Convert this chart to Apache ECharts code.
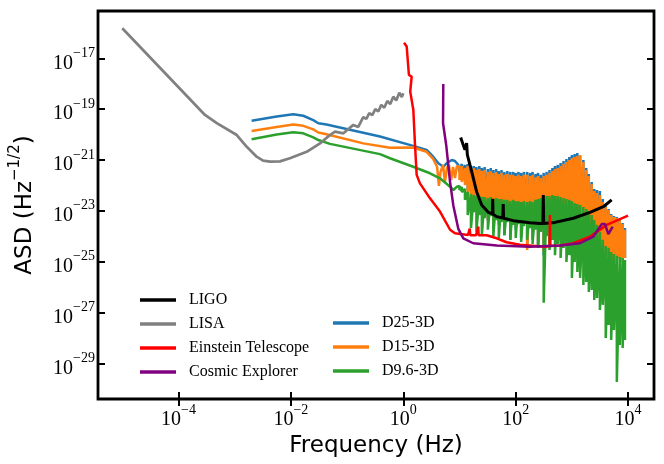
<!DOCTYPE html>
<html><head><meta charset="utf-8">
<script src="https://cdn.jsdelivr.net/npm/echarts@6/dist/echarts.min.js"></script>
<style>html,body{margin:0;padding:0;background:#fff}#c{width:664px;height:464px}</style>
</head><body><div id="c"></div>
<script>
// ---- axis ticks ----
const xTicks = [1e-4, 1e-2, 1, 1e2, 1e4];
const yTicks = [1e-29, 1e-27, 1e-25, 1e-23, 1e-21, 1e-19, 1e-17];

// ---- LIGO ----
const ligoF = [10.5, 12.5, 13.4, 13.8, 16.5, 20.2, 24.8, 32.5, 38.5, 39, 39.5, 46, 59, 60, 61, 90.6, 180, 270, 305, 310, 315, 500, 1060, 2100, 3620, 5100];
const ligoA = [7.6e-21, 2.5e-21, 4.6e-21, 1.58e-21, 3.5e-22, 5.6e-23, 1.7e-23, 8.7e-24, 7.6e-24, 3.0e-23, 7.4e-24, 5.9e-24, 5.2e-24, 1.86e-23, 5.1e-24, 4.1e-24, 3.4e-24, 3.2e-24, 3.2e-24, 4.2e-23, 3.2e-24, 3.5e-24, 5.1e-24, 8.7e-24, 1.45e-23, 2.7e-23];

// ---- LISA ----
const lisaF = [1.0e-5, 2.96e-4, 4.8e-4, 1.09e-3, 1.64e-3, 2.46e-3, 3.2e-3, 4.25e-3, 6.4e-3, 9.6e-3, 1.91e-2, 3.3e-2, 4.96e-2, 6.1e-2, 8.6e-2, 0.129, 0.158, 0.194, 0.22, 0.248, 0.281, 0.318, 0.359, 0.406, 0.459, 0.519, 0.587, 0.664, 0.75, 0.849, 0.94, 1.0];
const lisaA = [1.52e-16, 5.9e-20, 2.8e-20, 9.6e-21, 3.3e-21, 1.35e-21, 9.5e-22, 8.6e-22, 8.8e-22, 1.17e-21, 2.1e-21, 4.5e-21, 9.6e-21, 1.3e-20, 1.12e-20, 2.4e-20, 2.0e-20, 4.9e-20, 4.1e-20, 7.0e-20, 5.8e-20, 1.0e-19, 8.1e-20, 1.47e-19, 1.13e-19, 2.1e-19, 1.58e-19, 3.1e-19, 2.2e-19, 4.4e-19, 3.0e-19, 4.2e-19];

// ---- Einstein Telescope ----
const etF = [1.03, 1.15, 1.26, 1.41, 1.33, 1.51, 1.61, 1.73, 1.98, 2.99, 4.5, 6.8, 8.3, 14.2, 14.8, 15.2, 15.6, 19.7, 21.3, 21.6, 21.9, 30.5, 45.9, 69, 119, 331, 400, 407, 414, 614, 1060, 2100, 4160, 10000];
const etA = [4.1e-17, 2.9e-17, 2.2e-18, 1.9e-18, 4.9e-19, 9.3e-20, 4.6e-21, 2.6e-22, 1.2e-22, 3.1e-23, 9.3e-24, 1.8e-24, 1.3e-24, 1.12e-24, 1.1e-24, 2.0e-24, 1.1e-24, 1.1e-24, 1.1e-24, 2.4e-24, 1.1e-24, 1.1e-24, 8.3e-25, 5.8e-25, 4.6e-25, 3.9e-25, 4.0e-25, 6.9e-24, 4.1e-25, 4.3e-25, 5.3e-25, 9.6e-25, 2.8e-24, 6.5e-24];

// ---- Cosmic Explorer ----
const ceF = [5.15, 5.1, 5.8, 6.8, 7.8, 9.5, 11.7, 17.6, 46, 180, 614, 1390, 2400, 3390, 3890, 4450, 5320];
const ceA = [9.7e-19, 2.8e-20, 3.9e-21, 1.35e-22, 1.55e-23, 2.0e-24, 8.3e-25, 5.3e-25, 4.3e-25, 3.9e-25, 4.3e-25, 5.3e-25, 9.6e-25, 3.0e-24, 3.0e-24, 1.22e-24, 2.4e-24];

// ---- D-curves: smooth low-frequency part ----
const d25F = [2.0e-3, 5.6e-3, 1.1e-2, 1.66e-2, 2.5e-2, 3.08e-2, 4.3e-2, 0.385, 1.5, 2.6, 3.4, 4.2, 5.15, 5.9, 7.3, 8.3, 9.5];
const d25A = [3.5e-20, 5.1e-20, 6.3e-20, 5.5e-20, 3.7e-20, 2.8e-20, 2.5e-20, 8.4e-21, 3.6e-21, 2.5e-21, 1.35e-21, 7.4e-22, 5.4e-22, 7.4e-22, 1.0e-21, 9.1e-22, 6.4e-22];
const d15F = [2.0e-3, 5.6e-3, 1.1e-2, 1.66e-2, 2.5e-2, 3.08e-2, 4.3e-2, 0.194, 0.58, 1.5, 2.6, 3.4, 4.0, 4.3, 4.6, 5.1, 5.5, 6.0, 6.5, 7.1, 7.7, 8.3, 9.0];
const d15A = [1.38e-20, 2.0e-20, 2.5e-20, 2.2e-20, 1.6e-20, 1.2e-20, 1.03e-20, 4.5e-21, 3.0e-21, 3.1e-21, 2.1e-21, 1.1e-21, 5.3e-22, 9.5e-23, 3.4e-22, 6.4e-22, 1.36e-22, 4.85e-22, 6.4e-22, 1.63e-22, 5.3e-22, 1.96e-22, 5.8e-22];
const d96F = [2.0e-3, 5.6e-3, 1.1e-2, 1.66e-2, 2.5e-2, 3.08e-2, 4.96e-2, 0.385, 0.58, 1.5, 2.99, 4.5, 6.8, 7.8, 9.0];
const d96A = [6.5e-21, 1.0e-20, 1.23e-20, 1.12e-20, 7.7e-21, 6.1e-21, 4.3e-21, 1.7e-21, 1.17e-21, 5.4e-22, 3.0e-22, 1.9e-22, 8.9e-23, 6.6e-23, 8.9e-23];

// ---- D-curves: noisy part, max/min per frequency bin ----
const noiseF = [10, 11, 12.5, 14, 16, 18, 20, 22.5, 25, 28, 32, 36, 40, 45, 50, 56, 63, 71, 80, 90, 100, 112, 125, 140, 160, 180, 200, 225, 250, 280, 315, 355, 400, 450, 500, 560, 630, 710, 800, 900, 1000, 1120, 1250, 1400, 1600, 1800, 2000, 2250, 2500, 2800, 3150, 3550, 4000, 4500, 5000, 5600, 6300, 7100, 8000, 8800];
const d25Hi = [7.6e-22, 7.0e-22, 6.4e-22, 7.0e-22, 5.8e-22, 5.8e-22, 5.3e-22, 5.8e-22, 4.85e-22, 5.3e-22,
  4.4e-22, 4.85e-22, 4.0e-22, 4.4e-22, 3.7e-22, 4.0e-22, 3.4e-22, 3.7e-22, 3.4e-22, 3.4e-22,
  3.1e-22, 3.4e-22, 3.1e-22, 3.4e-22, 3.4e-22, 3.1e-22, 3.4e-22, 2.8e-22, 3.1e-22, 2.6e-22,
  3.1e-22, 3.4e-22, 4.0e-22, 4.85e-22, 5.8e-22, 6.4e-22, 7.6e-22, 9.1e-22, 1.1e-21, 1.31e-21,
  1.57e-21, 1.72e-21, 1.88e-21, 1.44e-21, 1.0e-21, 4.85e-22, 2.8e-22, 1.36e-22, 7.2e-23, 6.6e-23,
  6.0e-23, 2.9e-23, 1.7e-23, 1.18e-23, 7.5e-24, 6.2e-24, 5.7e-24, 4.8e-24, 3.3e-24, 2.1e-24];
const d25Lo = [3.4e-22, 2.6e-22, 1.63e-22, 6.6e-23, 2.7e-23, 4.2e-23, 1.08e-23, 2.7e-23, 6.8e-24, 1.7e-23,
  4.3e-24, 1.08e-23, 2.1e-24, 9.0e-24, 2.8e-24, 6.8e-24, 1.1e-24, 5.2e-24, 7.2e-25, 4.3e-24,
  1.8e-24, 5.2e-24, 8.6e-25, 3.6e-24, 4.5e-25, 2.8e-24, 7.2e-25, 2.1e-24, 3.5e-25, 1.5e-24,
  1.8e-25, 1.8e-24, 6.0e-25, 2.1e-24, 8.6e-25, 2.5e-24, 7.2e-25, 1.8e-24, 6.0e-25, 1.5e-24,
  5.0e-25, 1.2e-24, 4.1e-25, 1.0e-24, 3.5e-25, 7.2e-25, 2.9e-25, 6.0e-25, 2.4e-25, 4.1e-25,
  1.8e-25, 2.9e-25, 1.4e-25, 2.0e-25, 1.17e-25, 1.8e-25, 1.17e-25, 1.4e-25, 1.17e-25, 1.4e-25];
const d15Hi = [5.3e-22, 5.8e-22, 4.85e-22, 5.8e-22, 4.4e-22, 4.85e-22, 4.0e-22, 4.4e-22, 3.7e-22, 4.0e-22,
  3.4e-22, 3.7e-22, 3.1e-22, 3.4e-22, 2.8e-22, 3.1e-22, 2.6e-22, 2.8e-22, 2.6e-22, 2.6e-22,
  2.35e-22, 2.6e-22, 2.35e-22, 2.6e-22, 2.6e-22, 2.35e-22, 2.6e-22, 2.1e-22, 2.35e-22, 1.96e-22,
  2.35e-22, 2.6e-22, 3.1e-22, 3.7e-22, 4.4e-22, 4.85e-22, 5.8e-22, 7.0e-22, 8.3e-22, 1.0e-21,
  1.2e-21, 1.31e-21, 1.44e-21, 1.57e-21, 8.3e-22, 4.0e-22, 2.35e-22, 1.14e-22, 6.0e-23, 5.0e-23,
  4.2e-23, 2.2e-23, 1.4e-23, 1.08e-23, 6.8e-24, 5.7e-24, 5.2e-24, 4.3e-24, 3.0e-24, 1.8e-24];
const d15Lo = [1.63e-22, 1.36e-22, 1.04e-22, 4.2e-23, 1.08e-23, 2.7e-23, 9.0e-24, 1.7e-23, 7.5e-24, 1.3e-23,
  4.3e-24, 9.0e-24, 2.8e-24, 6.8e-24, 3.6e-24, 7.5e-24, 2.1e-24, 6.2e-24, 1.5e-24, 5.2e-24,
  2.5e-24, 6.8e-24, 1.1e-24, 4.3e-24, 2.9e-25, 3.6e-24, 8.6e-25, 2.8e-24, 4.5e-25, 1.8e-24,
  2.4e-25, 2.1e-24, 7.2e-25, 2.5e-24, 1.1e-24, 2.8e-24, 8.6e-25, 2.1e-24, 7.2e-25, 1.8e-24,
  6.0e-25, 1.5e-24, 4.5e-25, 1.1e-24, 3.5e-25, 8.6e-25, 2.9e-25, 7.2e-25, 2.4e-25, 4.5e-25,
  1.8e-25, 2.9e-25, 1.17e-25, 1.8e-25, 9.7e-26, 1.8e-25, 9.7e-26, 1.4e-25, 9.7e-26, 1.4e-25];
const d96Hi = [9.5e-23, 8.6e-23, 7.2e-23, 5.5e-23, 4.6e-23, 4.2e-23, 3.8e-23, 3.8e-23, 3.5e-23, 3.5e-23,
  3.2e-23, 3.5e-23, 2.9e-23, 3.2e-23, 2.9e-23, 2.9e-23, 2.7e-23, 2.7e-23, 2.4e-23, 2.7e-23,
  2.4e-23, 2.4e-23, 2.2e-23, 2.4e-23, 2.2e-23, 2.4e-23, 2.2e-23, 2.7e-23, 2.9e-23, 3.2e-23,
  3.5e-23, 3.8e-23, 3.8e-23, 4.2e-23, 3.8e-23, 3.8e-23, 3.5e-23, 3.2e-23, 2.9e-23, 2.7e-23,
  2.4e-23, 2.0e-23, 1.85e-23, 1.7e-23, 1.4e-23, 1.18e-23, 9.8e-24, 6.8e-24, 4.3e-24, 2.8e-24,
  1.5e-24, 7.2e-25, 4.1e-25, 3.5e-25, 2.4e-25, 2.0e-25, 1.7e-25, 1.53e-25, 1.4e-25, 1.17e-25];
const d96Lo = [6.6e-23, 5.5e-23, 2.7e-23, 6.8e-24, 2.1e-24, 9.0e-24, 1.5e-24, 6.8e-24, 1.1e-24, 5.2e-24,
  1.8e-24, 6.2e-24, 1.0e-24, 4.3e-24, 8.6e-25, 3.6e-24, 1.1e-24, 3.6e-24, 7.2e-25, 2.8e-24,
  8.6e-25, 3.0e-24, 6.0e-25, 2.5e-24, 7.2e-25, 2.1e-24, 5.0e-25, 1.8e-24, 4.1e-25, 1.5e-24,
  2.4e-27, 1.0e-24, 2.9e-25, 7.2e-25, 1.8e-25, 5.0e-25, 1.4e-25, 3.5e-25, 9.7e-26, 1.8e-25,
  2.3e-26, 9.7e-26, 3.9e-26, 2.3e-26, 1.2e-26, 1.6e-26, 6.4e-27, 7.7e-27, 3.1e-27, 3.7e-27,
  1.26e-27, 2.0e-27, 1.0e-28, 3.2e-28, 8.3e-29, 2.05e-28, 1.85e-30, 5.3e-29, 4.0e-29, 8.3e-29];

// ---- build series data ----
const pairs = (fs, as) => fs.map((f, i) => [f, as[i]]);
const withNoise = (fs, as, hi, lo) => {
  const d = pairs(fs, as);
  noiseF.forEach((f, i) => { d.push([f, hi[i]]); d.push([f, lo[i]]); });
  return d;
};

const serif = 'Liberation Serif, Times New Roman, serif';
const sans = 'DejaVu Sans, sans-serif';
const tickFmt = v => {
  const e = Math.round(Math.log10(v));
  return '{b|10}{s|' + (e < 0 ? '\u2212' : '') + Math.abs(e) + '}';
};
const richTick = {
  b: { fontFamily: serif, fontSize: 20, color: '#000', verticalAlign: 'middle', lineHeight: 34 },
  s: { fontFamily: serif, fontSize: 14, color: '#000', verticalAlign: 'top', lineHeight: 12 }
};
const X_MIN = Math.pow(10, -5.432), X_MAX = Math.pow(10, 4.461);
const Y_MIN = Math.pow(10, -30.403), Y_MAX = Math.pow(10, -15.139);

const tickStyle = { show: true, inside: true, length: 7, lineStyle: { color: '#000', width: 2 } };

const chart = echarts.init(document.getElementById('c'), null, { renderer: 'canvas', width: 664, height: 464 });
const mk = (name, data, color, width) => ({
  name, type: 'line', data, showSymbol: false, symbol: 'none', animation: false,
  lineStyle: { color, width }, itemStyle: { color }, emphasis: { disabled: true }, clip: true
});
chart.setOption({
  animation: false,
  backgroundColor: '#fff',
  grid: { left: 98, right: 10, top: 11, bottom: 65, show: true, borderColor: '#000', borderWidth: 2.8, backgroundColor: 'transparent' },
  xAxis: [
    { type: 'log', logBase: 10, min: X_MIN, max: X_MAX, position: 'bottom',
      axisLine: { show: false }, splitLine: { show: false },
      axisTick: Object.assign({ customValues: xTicks }, tickStyle),
      axisLabel: { customValues: xTicks, formatter: tickFmt, rich: richTick, margin: 4 },
      name: 'Frequency (Hz)', nameLocation: 'middle', nameGap: 35,
      nameTextStyle: { fontFamily: sans, fontSize: 23, color: '#000' } },
    { type: 'log', logBase: 10, min: X_MIN, max: X_MAX, position: 'top',
      axisLine: { show: false }, splitLine: { show: false },
      axisTick: Object.assign({ customValues: xTicks }, tickStyle),
      axisLabel: { show: false, customValues: xTicks } }
  ],
  yAxis: [
    { type: 'log', logBase: 10, min: Y_MIN, max: Y_MAX, position: 'left',
      axisLine: { show: false }, splitLine: { show: false },
      axisTick: Object.assign({ customValues: yTicks }, tickStyle),
      axisLabel: { customValues: yTicks, formatter: tickFmt, rich: richTick, margin: 3, padding: [10, 0, 0, 0] },
      name: '{a|ASD (Hz}{s|\u22121/2}{a|)}', nameLocation: 'middle', nameGap: 56, nameRotate: 90,
      nameTextStyle: { fontFamily: sans, fontSize: 23, color: '#000', rich: {
        a: { fontFamily: sans, fontSize: 23, color: '#000', verticalAlign: 'middle', lineHeight: 34 },
        s: { fontFamily: sans, fontSize: 15, color: '#000', verticalAlign: 'top', lineHeight: 14 } } } },
    { type: 'log', logBase: 10, min: Y_MIN, max: Y_MAX, position: 'right',
      axisLine: { show: false }, splitLine: { show: false },
      axisTick: Object.assign({ customValues: yTicks }, tickStyle),
      axisLabel: { show: false, customValues: yTicks } }
  ],
  legend: [
    { orient: 'vertical', left: 140, top: 292, padding: 0, itemGap: 8, itemWidth: 36, itemHeight: 3.5, icon: 'rect',
      selectedMode: false, data: ['LIGO', 'LISA', 'Einstein Telescope', 'Cosmic Explorer'],
      textStyle: { fontFamily: serif, fontSize: 16, color: '#000', padding: [0, 0, 0, 8] } },
    { orient: 'vertical', left: 333, top: 315, padding: 0, itemGap: 8, itemWidth: 36, itemHeight: 3.5, icon: 'rect',
      selectedMode: false, data: ['D25-3D', 'D15-3D', 'D9.6-3D'],
      textStyle: { fontFamily: serif, fontSize: 16, color: '#000', padding: [0, 0, 0, 8] } }
  ],
  series: [
    mk('D25-3D', withNoise(d25F, d25A, d25Hi, d25Lo), '#1f77b4', 2.5),
    mk('D15-3D', withNoise(d15F, d15A, d15Hi, d15Lo), '#ff7f0e', 2.5),
    mk('D9.6-3D', withNoise(d96F, d96A, d96Hi, d96Lo), '#2ca02c', 2.5),
    mk('LIGO', pairs(ligoF, ligoA), '#000000', 3),
    mk('LISA', pairs(lisaF, lisaA), '#808080', 2.7),
    mk('Einstein Telescope', pairs(etF, etA), '#ff0000', 2.5),
    mk('Cosmic Explorer', pairs(ceF, ceA), '#800080', 2.5)
  ]
});
</script></body></html>
